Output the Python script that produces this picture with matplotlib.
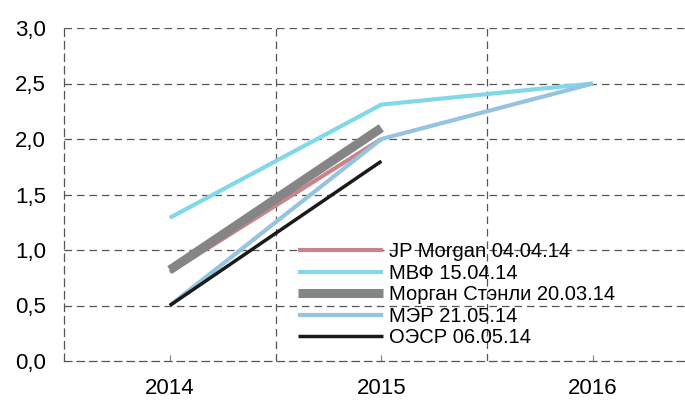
import numpy as np
import matplotlib
matplotlib.use("Agg")
import matplotlib.pyplot as plt

plt.rcParams['font.family'] = ['Liberation Sans', 'DejaVu Sans']

years = ["2014", "2015", "2016"]
jp_morgan = [0.80, 2.00, np.nan]
imf = [1.29, 2.31, 2.50]
morgan_stanley = [0.82, 2.10, np.nan]
mer = [0.50, 2.00, 2.50]
oecd = [0.50, 1.80, np.nan]
y_ticks = [0.0, 0.5, 1.0, 1.5, 2.0, 2.5, 3.0]

fig = plt.figure(figsize=(6.85, 4.08), dpi=100)
ax = fig.add_axes([64/685, 1-361/408, (698.75-64)/685, (361-28)/408])

x = np.arange(len(years))
ax.plot(x, jp_morgan, color="#c8848a", lw=3.0, label="JP Morgan 04.04.14", solid_capstyle='butt')
ax.plot(x, imf, color="#80d8e8", lw=3.0, label="МВФ 15.04.14", solid_capstyle='butt')
ax.plot(x, morgan_stanley, color="#858585", lw=6.5, label="Морган Стэнли 20.03.14", solid_capstyle='butt')
ax.plot(x, mer, color="#95c4e0", lw=3.0, label="МЭР 21.05.14", solid_capstyle='butt')
ax.plot(x, oecd, color="#1a1a1a", lw=2.5, label="ОЭСР 06.05.14", solid_capstyle='butt')

ax.set_xlim(-0.5, 2.5)
ax.set_ylim(0, 3.0)
ax.set_yticks(y_ticks)
ax.set_yticklabels([f"{v:.1f}".replace('.', ',') for v in y_ticks], fontsize=16)
ax.set_xticks(x)
ax.set_xticklabels(years, fontsize=16)
ax.tick_params(axis='x', direction='in', length=4, color='#808080', pad=12)
ax.tick_params(axis='y', length=0, pad=13)

for v in y_ticks[1:]:
    ax.axhline(v, color='#555555', lw=0.9, ls=(0, (6, 4)), zorder=0)
for v in [0.5, 1.5]:
    ax.axvline(v, color='#555555', lw=0.9, ls=(0, (6, 4)), zorder=0)

for s in ['top', 'right']:
    ax.spines[s].set_visible(False)
for s in ['left', 'bottom']:
    ax.spines[s].set_color('#555555')
    ax.spines[s].set_linewidth(0.9)
    ax.spines[s].set_linestyle((0, (6, 4)))

leg = fig.legend(loc='upper left', bbox_to_anchor=(298/685, 1-242/408), frameon=False,
                 fontsize=14.5, handlelength=4.2, handletextpad=0.3, labelspacing=0.13,
                 borderpad=0, borderaxespad=0)

fig.savefig("out.png", dpi=100)
